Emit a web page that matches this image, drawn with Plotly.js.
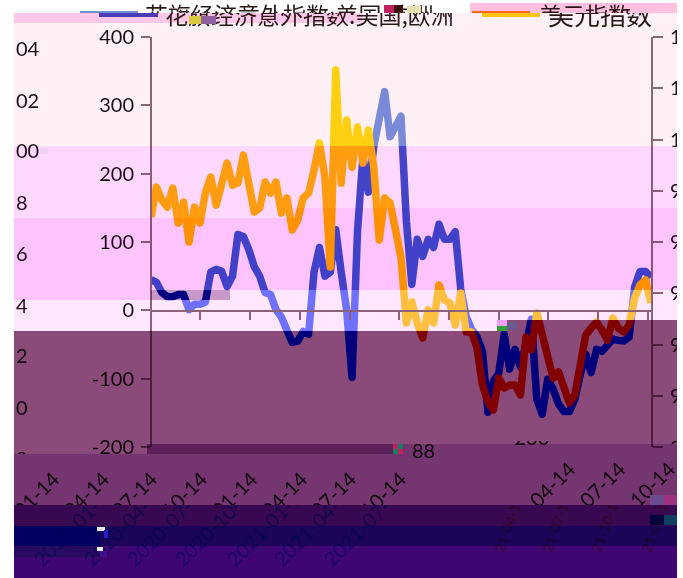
<!DOCTYPE html>
<html>
<head>
<meta charset="utf-8">
<script src="https://cdn.plot.ly/plotly-3.0.1.min.js"></script>
<style>
html,body{margin:0;padding:0;background:#fff;}
#wrap{position:relative;width:683px;height:578px;overflow:hidden;isolation:isolate;background:#fff;}
#chart{position:absolute;left:0;top:0;width:683px;height:578px;}
.b{position:absolute;mix-blend-mode:multiply;pointer-events:none;}
.n{position:absolute;pointer-events:none;}
</style>
</head>
<body>
<div id="wrap"><div id="chart"></div></div>
<script>
const dates = ["2019-04-14","2019-04-24","2019-05-04","2019-05-14","2019-05-24","2019-06-03","2019-06-13","2019-06-23","2019-07-03","2019-07-13","2019-07-23","2019-08-02","2019-08-12","2019-08-22","2019-09-01","2019-09-11","2019-09-21","2019-10-01","2019-10-11","2019-10-21","2019-10-31","2019-11-10","2019-11-20","2019-11-30","2019-12-10","2019-12-20","2019-12-30","2020-01-09","2020-01-19","2020-01-29","2020-02-08","2020-02-18","2020-02-28","2020-03-09","2020-03-19","2020-03-29","2020-04-08","2020-04-18","2020-04-28","2020-05-08","2020-05-18","2020-05-28","2020-06-07","2020-06-17","2020-06-27","2020-07-07","2020-07-17","2020-07-27","2020-08-06","2020-08-16","2020-08-26","2020-09-05","2020-09-15","2020-09-25","2020-10-05","2020-10-15","2020-10-25","2020-11-04","2020-11-14","2020-11-24","2020-12-04","2020-12-14","2020-12-24","2021-01-03","2021-01-13","2021-01-23","2021-02-02","2021-02-12","2021-02-22","2021-03-04","2021-03-14","2021-03-24","2021-04-03","2021-04-13","2021-04-23","2021-05-03","2021-05-13","2021-05-23","2021-06-02","2021-06-12","2021-06-22","2021-07-02","2021-07-12","2021-07-22","2021-08-01","2021-08-11","2021-08-21","2021-08-31","2021-09-10","2021-09-20","2021-09-30","2021-10-10","2021-10-20"];
const citiSurprise = [45,41,26,20,20,23,23,1,9,9,12,56,60,57,35,50,111,108,89,64,50,26,23,1,-10,-32,-47,-45,-31,-35,56,92,50,56,118,56,1,-98,115,225,173,240,284,320,254,272,284,130,38,104,79,104,92,126,104,104,115,31,-9,-28,-39,-60,-149,-104,-92,-35,-86,-57,-83,-50,-13,-130,-152,-101,-115,-137,-148,-148,-130,-94,-64,-91,-57,-60,-50,-42,-44,-45,-39,34,57,57,48];
const usdIndex = [96.97,98.14,97.64,97.36,98.1,96.74,97.56,96,97.36,96.74,97.91,98.53,97.44,98.3,99.08,98.22,98.3,99.39,98.3,97.17,97.33,98.34,97.91,98.34,97.13,97.72,96.47,96.86,97.72,97.91,98.81,99.86,98.53,95.02,102.71,98.3,100.76,98.92,100.49,99.08,100.37,98.92,96.08,97.72,97.52,96.58,95.41,92.84,93.66,92.84,92.25,93.35,92.84,94.32,93.74,93.62,92.76,94.01,92.49,92.49,91.86,90.42,89.76,89.44,90.69,90.3,90.42,90.42,90.03,92.29,91.78,93.23,92.37,91.59,90.69,90.93,90.22,89.72,90.03,91.2,92.37,92.64,92.88,92.56,92.17,93.03,92.64,92.49,92.76,93.81,94.32,94.52,93.62];
const leftTicks = [400,300,200,100,0,-100,-200];
const leftTickText = ["400","300","200","100","0","-100","-200"];
const rightTickVals = [104,102,100,98,96,94,92,90,88];
const rightTickText = ["104","102","100","98","96","94","92","90",""];
const rightWrapped = ["04","02","00","8","6","4","2","0","8"];
const dateLabels = ["2020-01-14","2020-04-14","2020-07-14","2020-10-14","2021-01-14","2021-04-14","2021-07-14","2021-10-14"];
const lastLabels = ["2021-04-14","2021-07-14","2021-10-14"];
const seriesNames = ["花旗经济意外指数:美国,欧洲","美元指数"];

const L=151,R=652,T=37,B=447;
const xp=p=>(p-L)/(R-L), yp=p=>(B-p)/(B-T);
const ink='#1e0e18';
// bands of the picture: x0,x1,y0,y1,colour
const bands=[
[470,677,3,13,'#ffc0e0'],
[14,362,13,23,'#ffc8e8'],[362,677,13,23,'#fff0f8'],
[14,677,23,146,'#fff0f6'],
[14,677,146,208,'#ffd8ff'],
[14,293,208,218,'#ffd8ff'],[293,677,208,218,'#ffc4ff'],
[14,677,218,290,'#ffc4ff'],
[14,151,290,300,'#ffc4ff'],[151,230,290,300,'#c898c8'],[230,677,290,300,'#ffe8ff'],
[14,677,300,320,'#ffe8ff'],
[14,497,320,331,'#ffe8ff'],[497,677,320,331,'#8a4a7a'],
[14,677,331,444,'#8a4a7a'],
[14,147,444,454,'#8a4a7a'],[147,395,444,454,'#5e2058'],[395,677,444,454,'#753570'],
[14,677,454,505,'#753570'],
[14,677,505,526,'#380850'],
[14,100,526,546,'#000060'],[100,677,526,546,'#1c0558'],
[14,100,546,557,'#280a60'],[100,677,546,578,'#3f0570'],[14,100,557,578,'#3f0570']
];
// colour wanted for each line inside each kind of band
function wanted(c){
  const m={'#fff0f6':['#7a8ad8','#ffd010'],'#fff0f8':['#7a8ad8','#ffd010'],'#ffd8ff':['#4444c8','#ff9c10'],'#ffc4ff':['#4040c8','#ff9000'],'#ffe8ff':['#7070ff','#ffc040'],'#c898c8':['#000080','#800000'],'#8a4a7a':['#000080','#800000']};
  return m[c]||['#000080','#800000'];
}
const hex=h=>[1,3,5].map(i=>parseInt(h.substr(i,2),16));
function base(target,band){const t=hex(target),b=hex(band);return 'rgb('+t.map((v,i)=>Math.min(255,Math.round(v*255/Math.max(b[i],1)))).join(',')+')';}

// annotations with their clipping boxes
const anns=[],clips=[];
function add(text,x,y,opt,clip){
  anns.push(Object.assign({text:text,x:xp(x),y:yp(y),xref:'paper',yref:'paper',showarrow:false,xanchor:'center',yanchor:'middle',font:{family:'Lato, sans-serif',size:20,color:ink}},opt||{}));
  clips.push(clip||null);
}
// wrapped right-axis digits at the left edge
const wrapY=[48,100,150,202,253,305,355,407,458];
rightWrapped.forEach((t,i)=>add(t,14,wrapY[i],{xanchor:'left'},[14,0,160,454]));
add("88",423,450,{},[400,440,440,458]);
add("88",668,447,{xanchor:'left'},[660,430,677,444]);
add("-200",528,437,{},[500,441,560,446]);
// rotated date labels
const ends=[55,105,153,203,253,303,352,402];
dateLabels.forEach((t,i)=>add(t,ends[i]-38,513,{textangle:-45},[14,454,677,505]));
const ends2=[571,621,671];
lastLabels.forEach((t,i)=>add(t,ends2[i]-38,503,{textangle:-45},[14,454,677,505]));
const starts=[37,87,130,178,230,277,327];
starts.forEach((s,i)=>add(dateLabels[i],s+38,562-38,{textangle:-45,font:{family:'Lato, sans-serif',size:20,color:'#69ffed'}},[14,505,677,578]));
[505,553,602,652].forEach((s,i)=>add(lastLabels[i%3],s,532,{textangle:-70,font:{family:'Lato, sans-serif',size:14,color:'#ff8080'}},[14,505,677,552]));
// legend text, torn at y = 13
const lf={family:'"Noto Sans CJK SC", sans-serif',size:23,color:'#2a1a18'};
add(seriesNames[0],143,14,{xanchor:'left',font:lf},[0,0,683,13]);
add(seriesNames[0],163,14,{xanchor:'left',font:lf},[0,13,683,30]);
add(seriesNames[1],537,14,{xanchor:'left',font:lf},[0,0,683,13]);
add(seriesNames[1],546,14,{xanchor:'left',font:Object.assign({},lf,{size:26})},[0,13,683,30]);

const legendKey=(x0,x1,y,w,c)=>({type:'line',xref:'paper',yref:'paper',x0:xp(x0),x1:xp(x1),y0:yp(y),y1:yp(y),line:{color:c,width:w},layer:'above'});
const axisCol='#8c6c78';
const common={showgrid:false,zeroline:false,showline:true,linecolor:axisCol,linewidth:2,ticks:'outside',tickcolor:axisCol,tickwidth:2};
const layout={
  width:683,height:578,autosize:false,showlegend:false,
  paper_bgcolor:'rgba(0,0,0,0)',plot_bgcolor:'rgba(0,0,0,0)',
  margin:{l:L,r:683-R,t:T,b:578-B,pad:0},
  font:{family:'Lato, sans-serif',size:20,color:ink},
  xaxis:Object.assign({},common,{type:'date',range:['2019-04-14','2021-10-22'],tick0:'2019-04-14',dtick:'M3',ticklen:8,showticklabels:false,anchor:'free',position:(B-311)/(B-T)}),
  yaxis:Object.assign({},common,{range:[-200,400],tickvals:leftTicks,ticktext:leftTickText,ticklen:9,anchor:'free',position:0,ticklabelstandoff:3}),
  yaxis2:Object.assign({},common,{range:[88,104],tickvals:rightTickVals,ticktext:rightTickText,ticklen:10,overlaying:'y',side:'right',anchor:'free',position:1,ticklabelstandoff:3}),
  annotations:anns,
  shapes:[legendKey(80,138,12,2,'#6f8fd0'),legendKey(99,158,15,4,'#4a4ac8'),legendKey(472,530,12,2,'#ff8c10'),legendKey(482,540,15,4,'#ffd010')]
};
const traces=[
 {x:dates,y:citiSurprise,name:seriesNames[0],type:'scatter',mode:'lines',xaxis:'x',yaxis:'y',line:{color:'#4040c8',width:7.5}},
 {x:dates,y:usdIndex,name:seriesNames[1],type:'scatter',mode:'lines',xaxis:'x',yaxis:'y2',line:{color:'#ffc000',width:7.5}}
];
const gd=document.getElementById('chart');
Plotly.newPlot(gd,traces,layout,{staticPlot:true,displayModeBar:false}).then(()=>{
  const wrap=document.getElementById('wrap');
  const NS='http://www.w3.org/2000/svg';
  const svg=gd.querySelector('svg.main-svg');
  const defs=svg.querySelector('defs')||svg.insertBefore(document.createElementNS(NS,'defs'),svg.firstChild);
  // line colours vary by band: paint strokes from a pattern the size of the page
  [0,1].forEach(k=>{
    const p=document.createElementNS(NS,'pattern');
    p.setAttribute('id','lineP'+k);p.setAttribute('patternUnits','userSpaceOnUse');
    p.setAttribute('width',683);p.setAttribute('height',578);
    p.setAttribute('patternTransform','translate('+(-L)+','+(-T)+')');
    bands.forEach(b=>{
      const r=document.createElementNS(NS,'rect');
      r.setAttribute('x',b[0]);r.setAttribute('y',b[2]);r.setAttribute('width',b[1]-b[0]);r.setAttribute('height',b[3]-b[2]);
      r.setAttribute('fill',base(wanted(b[4])[k],b[4]));
      p.appendChild(r);
    });
    defs.appendChild(p);
  });
  gd.querySelectorAll('.scatterlayer path.js-line').forEach((el,k)=>{el.style.stroke='url(#lineP'+k+')';el.style.strokeLinejoin='round';});
  // clip annotations
  gd.querySelectorAll('.annotation').forEach(g=>{
    const i=+g.getAttribute('data-index');const c=clips[i];if(!c)return;
    const cp=document.createElementNS(NS,'clipPath');cp.setAttribute('id','annClip'+i);
    const r=document.createElementNS(NS,'rect');
    r.setAttribute('x',c[0]);r.setAttribute('y',c[1]);r.setAttribute('width',c[2]-c[0]);r.setAttribute('height',c[3]-c[1]);
    cp.appendChild(r);defs.appendChild(cp);
    g.setAttribute('clip-path','url(#annClip'+i+')');
  });
  const mk=(cls,x0,y0,w,h,c)=>{const d=document.createElement('div');d.className=cls;d.style.cssText+='left:'+x0+'px;top:'+y0+'px;width:'+w+'px;height:'+h+'px;background:'+c+';';wrap.appendChild(d);};
  bands.forEach(b=>mk('b',b[0],b[2],b[1]-b[0],b[3]-b[2],b[4]));
  // white margins
  mk('n',677,0,6,578,'#fff');mk('n',0,0,14,578,'#fff');
  // torn-image specks
  [[384,5,10,8,'#c02060'],[394,5,9,8,'#3a1010'],[407,6,14,7,'#e8e0b0'],[189,16,12,8,'#d8c840'],[201,16,15,8,'#9060a0'],
   [497,320,10,6,'#f0a0f0'],[497,326,10,5,'#30a030'],[507,322,10,8,'#6a5a90'],
   [393,444,5,5,'#c02060'],[398,444,5,5,'#108060'],[393,449,5,5,'#108060'],[398,449,5,5,'#c02060'],
   [97,527,8,4,'#e8e8f0'],[104,530,4,8,'#2020d0'],[97,547,6,4,'#e8e8f0'],[100,551,7,6,'#401090'],
   [650,495,14,10,'#6a4a90'],[664,495,13,10,'#a03080'],[650,515,14,10,'#000040'],[664,515,13,10,'#104060'],
   [40,148,8,6,'#f0d0f0']].forEach(s=>mk('n',s[0],s[1],s[2],s[3],s[4]));
});
</script>
</body>
</html>
